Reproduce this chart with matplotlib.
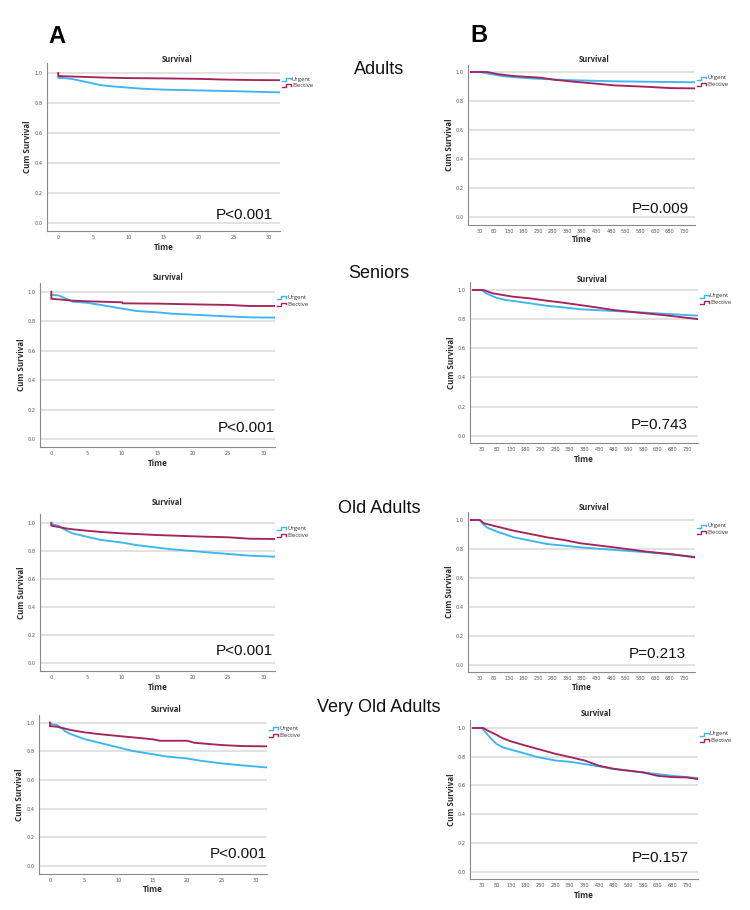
import matplotlib
matplotlib.use("Agg")
import matplotlib.pyplot as plt
from matplotlib.lines import Line2D

# ---------------- data ----------------
groups = ["Adults", "Seniors", "Old Adults", "Very Old Adults"]
series_names = ["Urgent", "Elective"]
p_values_A = ["P<0.001", "P<0.001", "P<0.001", "P<0.001"]
p_values_B = ["P=0.009", "P=0.743", "P=0.213", "P=0.157"]
x_ticks_A = [0, 5, 10, 15, 20, 25, 30]
x_ticks_B = [30, 80, 130, 180, 230, 280, 330, 380, 430, 480, 530, 580, 630, 680, 730]
y_ticks = [0.0, 0.2, 0.4, 0.6, 0.8, 1.0]

# Panel A (30-day survival)
adults_A_urg_t = [0, 1, 2, 3, 4, 5, 6, 7, 8, 10, 12, 15, 20, 25, 28, 31.5]
adults_A_urg_s = [0.968, 0.965, 0.960, 0.950, 0.940, 0.930, 0.920, 0.914, 0.910, 0.902, 0.895, 0.889, 0.884, 0.879, 0.875, 0.871]
adults_A_ele_t = [0, 0, 1, 3, 5, 7, 10, 15, 20, 23, 25, 28, 31.5]
adults_A_ele_s = [1.0, 0.980, 0.978, 0.975, 0.972, 0.969, 0.966, 0.964, 0.961, 0.957, 0.955, 0.953, 0.952]

seniors_A_urg_t = [0, 1, 2, 3, 5, 7, 10, 12, 15, 17, 20, 25, 28, 31.5]
seniors_A_urg_s = [0.978, 0.975, 0.955, 0.932, 0.925, 0.910, 0.885, 0.869, 0.860, 0.851, 0.844, 0.832, 0.826, 0.824]
seniors_A_ele_t = [0, 0, 2, 3, 5, 10, 10.1, 15, 20, 25, 28, 31.5]
seniors_A_ele_s = [1.0, 0.952, 0.944, 0.939, 0.935, 0.928, 0.921, 0.919, 0.914, 0.910, 0.903, 0.903]

old_A_urg_t = [0, 1, 2, 3, 5, 7, 10, 12, 15, 17, 20, 22, 25, 28, 31.5]
old_A_urg_s = [0.990, 0.978, 0.948, 0.924, 0.900, 0.877, 0.858, 0.841, 0.822, 0.810, 0.798, 0.789, 0.777, 0.765, 0.758]
old_A_ele_t = [0, 0, 2, 3, 5, 7, 10, 15, 20, 25, 28, 31.5]
old_A_ele_s = [1.0, 0.979, 0.960, 0.953, 0.943, 0.934, 0.924, 0.912, 0.903, 0.896, 0.886, 0.884]

veryold_A_urg_t = [0, 0.3, 1, 2, 2.2, 3, 5, 7, 10, 12, 15, 17, 20, 22, 25, 28, 31.5]
veryold_A_urg_s = [1.0, 0.988, 0.985, 0.950, 0.940, 0.921, 0.886, 0.862, 0.827, 0.803, 0.780, 0.764, 0.750, 0.734, 0.716, 0.702, 0.688]
veryold_A_ele_t = [0, 0, 1, 2, 3, 5, 7, 10, 12, 15, 16, 20, 21, 25, 28, 31.5]
veryold_A_ele_s = [1.0, 0.976, 0.972, 0.961, 0.949, 0.933, 0.921, 0.907, 0.898, 0.884, 0.874, 0.874, 0.860, 0.844, 0.837, 0.835]

# Panel B (2-year survival)
adults_B_urg_t = [0, 30, 68, 113, 204, 318, 489, 600, 765]
adults_B_urg_s = [1.0, 1.0, 0.986, 0.970, 0.956, 0.945, 0.936, 0.933, 0.929]
adults_B_ele_t = [0, 55, 68, 90, 147, 238, 284, 352, 432, 489, 602, 682, 765]
adults_B_ele_s = [1.0, 1.0, 0.995, 0.986, 0.972, 0.961, 0.947, 0.933, 0.919, 0.908, 0.898, 0.889, 0.887]

seniors_B_urg_t = [0, 30, 45, 79, 113, 193, 250, 307, 364, 477, 591, 765]
seniors_B_urg_s = [1.0, 1.0, 0.977, 0.947, 0.931, 0.909, 0.892, 0.881, 0.868, 0.856, 0.844, 0.824]
seniors_B_ele_t = [0, 35, 68, 136, 193, 250, 307, 364, 420, 477, 568, 648, 765]
seniors_B_ele_s = [1.0, 1.0, 0.977, 0.954, 0.943, 0.927, 0.913, 0.897, 0.881, 0.863, 0.844, 0.828, 0.801]

old_B_urg_t = [0, 30, 45, 56, 90, 147, 204, 261, 375, 489, 602, 765]
old_B_urg_s = [1.0, 1.0, 0.965, 0.947, 0.919, 0.880, 0.857, 0.834, 0.811, 0.793, 0.777, 0.746]
old_B_ele_t = [0, 30, 45, 90, 147, 204, 261, 318, 375, 489, 602, 682, 765]
old_B_ele_s = [1.0, 1.0, 0.977, 0.954, 0.926, 0.903, 0.880, 0.862, 0.839, 0.811, 0.781, 0.765, 0.742]

veryold_B_urg_t = [0, 30, 45, 60, 80, 100, 130, 180, 215, 280, 330, 430, 480, 580, 680, 730, 768]
veryold_B_urg_s = [1.0, 1.0, 0.965, 0.930, 0.890, 0.867, 0.849, 0.821, 0.800, 0.774, 0.765, 0.733, 0.714, 0.691, 0.667, 0.658, 0.651]
veryold_B_ele_t = [0, 35, 55, 80, 100, 130, 180, 230, 280, 330, 380, 430, 480, 580, 630, 680, 730, 768]
veryold_B_ele_s = [1.0, 1.0, 0.977, 0.953, 0.930, 0.907, 0.877, 0.849, 0.821, 0.798, 0.774, 0.737, 0.716, 0.691, 0.667, 0.658, 0.656, 0.644]

curves_A = [
    (adults_A_urg_t, adults_A_urg_s, adults_A_ele_t, adults_A_ele_s),
    (seniors_A_urg_t, seniors_A_urg_s, seniors_A_ele_t, seniors_A_ele_s),
    (old_A_urg_t, old_A_urg_s, old_A_ele_t, old_A_ele_s),
    (veryold_A_urg_t, veryold_A_urg_s, veryold_A_ele_t, veryold_A_ele_s),
]
curves_B = [
    (adults_B_urg_t, adults_B_urg_s, adults_B_ele_t, adults_B_ele_s),
    (seniors_B_urg_t, seniors_B_urg_s, seniors_B_ele_t, seniors_B_ele_s),
    (old_B_urg_t, old_B_urg_s, old_B_ele_t, old_B_ele_s),
    (veryold_B_urg_t, veryold_B_urg_s, veryold_B_ele_t, veryold_B_ele_s),
]

# ---------------- style / layout ----------------
URGENT = "#3db5f2"
ELECTIVE = "#a6245c"
GRID = "#dadada"
SPINE = "#8a8a8a"
TXT = "#2b2b2b"
W, H = 750, 910

fig = plt.figure(figsize=(7.5, 9.1), dpi=100)
fig.patch.set_facecolor("white")


def fx(px):
    return px / W


def fy(py):
    return 1 - py / H


# axes rects in pixels: (left, top, right, bottom); grid y of 1.0 and 0.0
rects_A = [(47, 63, 280, 231), (40, 283, 275, 447), (40, 514, 275, 671), (39, 715, 267, 874)]
gy_A = [(73, 223), (291.7, 439), (522.7, 663), (722.7, 866)]
rects_B = [(468, 65, 695, 225), (470, 282, 698, 443), (468, 512, 695, 672), (470, 720, 698, 879)]
gy_B = [(72, 217), (290, 435.7), (520, 664.6), (728, 871.7)]
title_A = [(177, 60), (168, 277), (167, 502), (166, 709)]
title_B = [(594, 59), (592, 279), (594, 507), (596, 714)]
pval_A = [(273, 219), (275, 432), (273, 655), (267, 858)]
pval_B = [(689, 213), (688, 429), (686, 658), (689, 862)]
ylab_gap = 19
xlab_A = [247.7, 463, 688, 890]
xlab_B = [240, 459, 688, 895]
group_y = [74, 278, 513, 712]


def draw_panel(rect, gy, curves, xlim, xticks, title_xy, pval, pval_xy, xlab_y):
    l, t, r, b = rect
    ax = fig.add_axes([fx(l), fy(b), (r - l) / W, (b - t) / H])
    y1, y0 = gy
    s = y0 - y1
    ax.set_ylim(-(b - y0) / s, 1 + (y1 - t) / s)
    ax.set_xlim(*xlim)
    for yv in y_ticks:
        ax.axhline(yv, color=GRID, lw=1.1, zorder=0)
    ut, us, et, es = curves
    ax.plot(ut, us, color=URGENT, lw=1.35, zorder=3, solid_joinstyle="miter")
    ax.plot(et, es, color=ELECTIVE, lw=1.35, zorder=4, solid_joinstyle="miter")
    ax.set_yticks(y_ticks)
    ax.set_yticklabels([f"{v:.1f}" for v in y_ticks])
    ax.set_xticks(xticks)
    ax.set_xticklabels([str(v) for v in xticks])
    ax.tick_params(length=0, labelsize=3.6, labelcolor="#555555", pad=3)
    for sp in ["top", "right"]:
        ax.spines[sp].set_visible(False)
    for sp in ["left", "bottom"]:
        ax.spines[sp].set_color(SPINE)
        ax.spines[sp].set_linewidth(0.8)
    # title
    fig.text(fx(title_xy[0]), fy(title_xy[1]), "Survival", ha="center", va="center",
             fontsize=5.5, fontweight="bold", color=TXT, family="Open Sans")
    # axis labels
    fig.text(fx(l - ylab_gap), fy((t + b) / 2), "Cum Survival", ha="center", va="center",
             rotation=90, fontsize=5.8, fontweight="bold", color=TXT, family="Open Sans")
    fig.text(fx((l + r) / 2), fy(xlab_y), "Time", ha="center", va="center",
             fontsize=5.8, fontweight="bold", color=TXT, family="Open Sans")
    # p-value
    fig.text(fx(pval_xy[0]), fy(pval_xy[1]), pval, ha="right", va="baseline",
             fontsize=11, color="#111111", family="Liberation Sans")
    # legend with SPSS-like step icons
    for k, (name, col) in enumerate(zip(series_names, [URGENT, ELECTIVE])):
        yc = y1 + 6 + k * 6.5
        x0 = r + 2
        xs = [x0, x0 + 4, x0 + 4, x0 + 9, x0 + 9]
        ys = [yc + 1.5, yc + 1.5, yc - 1.5, yc - 1.5, yc + 0.3]
        fig.add_artist(Line2D([fx(v) for v in xs], [fy(v) for v in ys], color=col,
                              lw=1.0, transform=fig.transFigure))
        fig.text(fx(x0 + 10), fy(yc), name, ha="left", va="center", fontsize=4.3,
                 color="#333333", family="Open Sans")
    return ax


for i in range(4):
    draw_panel(rects_A[i], gy_A[i], curves_A[i], (-1.6, 31.6), x_ticks_A, title_A[i],
               p_values_A[i], pval_A[i], xlab_A[i])
    draw_panel(rects_B[i], gy_B[i], curves_B[i], (-10, 767), x_ticks_B, title_B[i],
               p_values_B[i], pval_B[i], xlab_B[i])
    fig.text(fx(379), fy(group_y[i]), groups[i], ha="center", va="baseline",
             fontsize=13, color="#111111", family="Liberation Sans")

fig.text(fx(48), fy(42.7), "A", ha="left", va="baseline", fontsize=17,
         fontweight="bold", color="#000000", family="Liberation Sans")
fig.text(fx(470), fy(42.3), "B", ha="left", va="baseline", fontsize=17,
         fontweight="bold", color="#000000", family="Liberation Sans")

fig.savefig("out.png", dpi=100, facecolor="white")
